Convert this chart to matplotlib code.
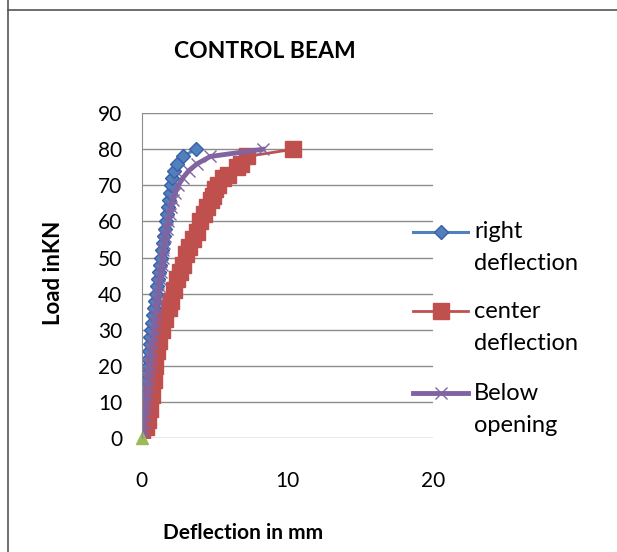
import matplotlib.pyplot as plt
from matplotlib.lines import Line2D

# load steps (kN) and deflections (mm)
right_load = [0, 2, 4, 6, 8, 10, 12, 14, 16, 18, 20, 22, 24, 26, 28, 30, 32, 34, 36, 38, 40,
              42, 44, 46, 48, 50, 52, 54, 56, 58, 60, 62, 64, 66, 68, 70, 72, 74, 76, 78, 80]
right_defl = [0.0, 0.05, 0.09, 0.12, 0.17, 0.2, 0.25, 0.28, 0.33, 0.37, 0.4, 0.45, 0.48, 0.53, 0.57,
              0.6, 0.68, 0.73, 0.82, 0.87, 0.95, 1.03, 1.08, 1.17, 1.22, 1.3, 1.38, 1.43, 1.52, 1.57,
              1.65, 1.73, 1.78, 1.87, 1.92, 2.0, 2.1, 2.2, 2.4, 2.8, 3.7]

center_load = [0, 3, 5, 8, 12, 16, 20, 24, 27, 30, 33, 36, 38, 41, 44, 46, 48, 51, 53, 55, 57,
               60, 62, 64, 66, 67, 69, 70, 72, 73, 75, 76, 78, 80]
center_defl = [0.0, 0.25, 0.4, 0.55, 0.7, 0.8, 0.9, 1.05, 1.2, 1.4, 1.6, 1.85, 2.0, 2.2, 2.4, 2.6,
               2.8, 3.0, 3.2, 3.5, 3.8, 4.0, 4.25, 4.5, 4.75, 4.9, 5.05, 5.2, 5.55, 5.9, 6.5, 6.8,
               7.2, 10.4]

below_load = [0, 2, 4, 6, 8, 10, 12, 14, 16, 18, 20, 22, 24, 26, 28, 30, 32, 34, 36, 38, 40,
              42, 44, 46, 48, 50, 52, 54, 56, 58, 60, 62, 64, 66, 68, 70, 72, 74, 76, 78, 80]
below_defl = [0.0, 0.07, 0.12, 0.18, 0.24, 0.3, 0.34, 0.4, 0.45, 0.5, 0.55, 0.6, 0.65, 0.72, 0.77,
              0.82, 0.87, 0.93, 0.99, 1.04, 1.1, 1.16, 1.22, 1.3, 1.36, 1.42, 1.48, 1.55, 1.62, 1.7,
              1.8, 1.9, 2.0, 2.12, 2.3, 2.5, 2.8, 3.2, 3.8, 4.7, 8.3]

left_load = [0]
left_defl = [0.0]

series_labels = [("right", "deflection"), ("center", "deflection"), ("Below", "opening")]

fig = plt.figure(figsize=(6.17, 5.52), dpi=100)
plt.rcParams['font.family'] = ['Lato', 'DejaVu Sans']
ax = fig.add_axes([0.230, 0.2065, 0.472, 0.5885])

styles = [
    dict(color="#4F81BD", lw=2.2, marker="D", markersize=7, markerfacecolor="#4F81BD",
         markeredgecolor="#3A5FA8"),
    dict(color="#C0504D", lw=2, marker="s", markersize=12, markeredgecolor="#C0504D"),
    dict(color="#8064A2", lw=3.5, marker="x", markersize=9, markeredgewidth=1),
]

ax.plot(right_defl, right_load, **styles[0])
ax.plot(center_defl, center_load, **styles[1])
ax.plot(below_defl, below_load, **styles[2])
ax.plot(left_defl, left_load, color="#9BBB59", lw=0, marker="^", markersize=9, clip_on=False)

ax.set_xlim(0, 20)
ax.set_ylim(0, 90)
ax.set_xticks([0, 10, 20])
ax.set_yticks(range(0, 91, 10))
ax.yaxis.grid(True, color="#8C8C8C", lw=1)
ax.set_axisbelow(True)
for s in ["top", "right", "bottom"]:
    ax.spines[s].set_visible(False)
ax.spines["left"].set_color("#8C8C8C")
ax.tick_params(length=0, labelsize=15)
ax.tick_params(axis="x", pad=24)
ax.tick_params(axis="y", pad=14)

fig.text(0.43, 0.906, "CONTROL BEAM", ha="center", va="center", fontsize=16.5, fontweight="bold")
fig.text(0.086, 0.505, "Load inKN", ha="center", va="center", rotation=90, fontsize=16,
         fontweight="bold")
fig.text(0.394, 0.034, "Deflection in mm", ha="center", va="center", fontsize=15,
         fontweight="bold")

# legend drawn by hand so the key sits beside the first line of each label (as in Excel)
key_y = [232, 311, 393]
for (first, second), st, yp in zip(series_labels, styles, key_y):
    yf = 1 - yp / 552
    fig.add_artist(Line2D([413 / 617, 468 / 617], [yf, yf], color=st["color"], lw=st["lw"]))
    kw = {k: v for k, v in st.items() if k != "lw"}
    fig.add_artist(Line2D([440.5 / 617], [yf], lw=0, **kw))
    fig.text(474 / 617, yf, first, ha="left", va="center", fontsize=17)
    fig.text(474 / 617, yf - 32 / 552, second, ha="left", va="center", fontsize=17)

# outer frame pieces seen at the top and left edges
fig.add_artist(Line2D([0.013, 0.013], [0, 1], color="#555555", lw=1.2))
fig.add_artist(Line2D([0.013, 1], [0.982, 0.982], color="#555555", lw=1.2))

plt.savefig("out.png", dpi=100)
plt.close()
